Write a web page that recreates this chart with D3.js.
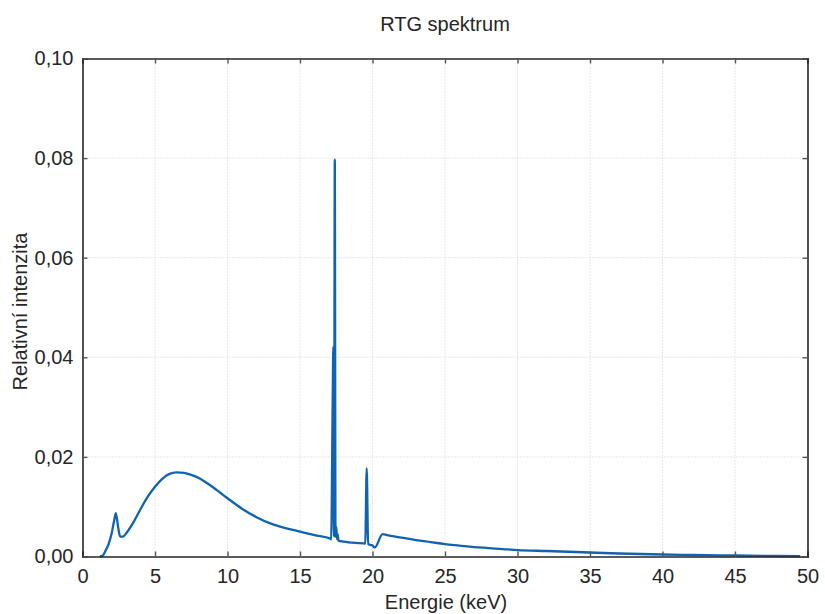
<!DOCTYPE html>
<html>
<head>
<meta charset="utf-8">
<script src="https://cdn.jsdelivr.net/npm/d3@7"></script>
<style>
  body { margin: 0; background: #fff; }
  svg { display: block; font-family: "Liberation Sans", Arial, sans-serif; }
</style>
</head>
<body>
<svg id="chart" width="825" height="614"></svg>
<script>
// Energy axis (keV)
const energy = [
  1.2, 1.4, 1.6, 1.8, 2.0, 2.2, 2.3, 2.45, 2.6, 2.8, 3.0, 3.5, 4.0, 4.5, 5.0, 5.5,
  6.0, 6.5, 7.0, 7.5, 8.0, 8.5, 9.0, 9.5, 10, 11, 12, 13, 14, 15, 16, 17.1,
  17.15, 17.25, 17.3, 17.35, 17.4, 17.45, 17.5, 17.55, 17.6, 17.65,
  18, 19, 19.5, 19.6, 19.7, 19.9, 20.0, 20.15, 20.7, 21, 22, 23, 24, 25, 26, 27,
  28, 29, 30, 32, 34, 35, 37, 40, 42, 45, 48, 49.5
];
// Relative intensity
const intensity = [
  0, 0.0002, 0.0012, 0.0025, 0.0045, 0.0075, 0.0087, 0.0060, 0.0040, 0.0040, 0.0046, 0.0068, 0.0095, 0.0120, 0.0140, 0.0156,
  0.0166, 0.0169, 0.0168, 0.0164, 0.0158, 0.0149, 0.0139, 0.0128, 0.0117, 0.0096, 0.0079, 0.0066, 0.0057, 0.0050, 0.0043, 0.0036,
  0.0034, 0.0300, 0.0421, 0.0040, 0.0797, 0.0040, 0.0060, 0.0035, 0.0045, 0.0032,
  0.0030, 0.0027, 0.0026, 0.0177, 0.0025, 0.0023, 0.0022, 0.0018, 0.0045, 0.0043, 0.0038, 0.0033, 0.0029, 0.0025, 0.0022, 0.0019,
  0.0017, 0.0015, 0.0013, 0.0011, 0.0009, 0.0008, 0.0006, 0.0004, 0.0003, 0.0002, 0.0001, 0.00005
];
const xTicks = [0, 5, 10, 15, 20, 25, 30, 35, 40, 45, 50];
const yTicks = [0, 0.02, 0.04, 0.06, 0.08, 0.10];
const titleText = "RTG spektrum";
const xLabel = "Energie (keV)";
const yLabel = "Relativní intenzita";

const svg = d3.select("#chart");
const L = 82.5, R = 807.5, T = 58.5, B = 556.5;
const x = d3.scaleLinear().domain([0, 50]).range([L, R]);
const y = d3.scaleLinear().domain([0, 0.1]).range([B, T]);
const fmtY = v => d3.format(".2f")(v).replace(".", ",");
const axisColor = "#262626";

// grid
const grid = svg.append("g");
grid.selectAll(".gx").data(xTicks.slice(1, -1)).enter().append("line")
  .attr("x1", d => x(d)).attr("x2", d => x(d)).attr("y1", T).attr("y2", B)
  .attr("stroke", "#d0d0d0").attr("stroke-width", 1).attr("stroke-dasharray", "1,2");
grid.selectAll(".gy").data(yTicks.slice(1, -1)).enter().append("line")
  .attr("y1", d => y(d)).attr("y2", d => y(d)).attr("x1", L).attr("x2", R)
  .attr("stroke", "#d0d0d0").attr("stroke-width", 1).attr("stroke-dasharray", "1,2");

// data line
const line = d3.line().x((d, i) => x(energy[i])).y(d => y(d)).curve(d3.curveMonotoneX);
svg.append("path").datum(intensity)
  .attr("d", line)
  .attr("fill", "none")
  .attr("stroke", "#0f63b0")
  .attr("stroke-width", 2.3)
  .attr("stroke-linejoin", "round");

// axes (inward ticks, mirrored)
const tickLen = 5;
const gB = svg.append("g").attr("transform", `translate(0,${B})`)
  .call(d3.axisBottom(x).tickValues(xTicks).tickSize(-tickLen).tickPadding(12).tickFormat(d3.format("d")));
const gT = svg.append("g").attr("transform", `translate(0,${T})`)
  .call(d3.axisTop(x).tickValues(xTicks).tickSize(-tickLen).tickFormat(""));
const gL = svg.append("g").attr("transform", `translate(${L},0)`)
  .call(d3.axisLeft(y).tickValues(yTicks).tickSize(-tickLen).tickPadding(9).tickFormat(fmtY));
const gR = svg.append("g").attr("transform", `translate(${R},0)`)
  .call(d3.axisRight(y).tickValues(yTicks).tickSize(-tickLen).tickFormat(""));
[gB, gT, gL, gR].forEach(g => {
  g.select(".domain").attr("stroke", axisColor).attr("stroke-width", 1.6);
  g.selectAll(".tick line").attr("stroke", "#555").attr("stroke-width", 1.4);
  g.selectAll(".tick text").attr("fill", axisColor).style("font-size", "20px")
    .style("font-family", "'Liberation Sans', Arial, sans-serif");
});

// title & labels
svg.append("text").attr("x", (L + R) / 2).attr("y", 31).attr("text-anchor", "middle")
  .attr("fill", axisColor).style("font-size", "20px").text(titleText);
svg.append("text").attr("x", (L + R) / 2 + 1).attr("y", 609).attr("text-anchor", "middle")
  .attr("fill", axisColor).style("font-size", "20px").text(xLabel);
svg.append("text").attr("transform", `translate(27,${(T + B) / 2 + 4}) rotate(-90)`)
  .attr("text-anchor", "middle").attr("fill", axisColor).style("font-size", "20px").text(yLabel);
</script>
</body>
</html>
